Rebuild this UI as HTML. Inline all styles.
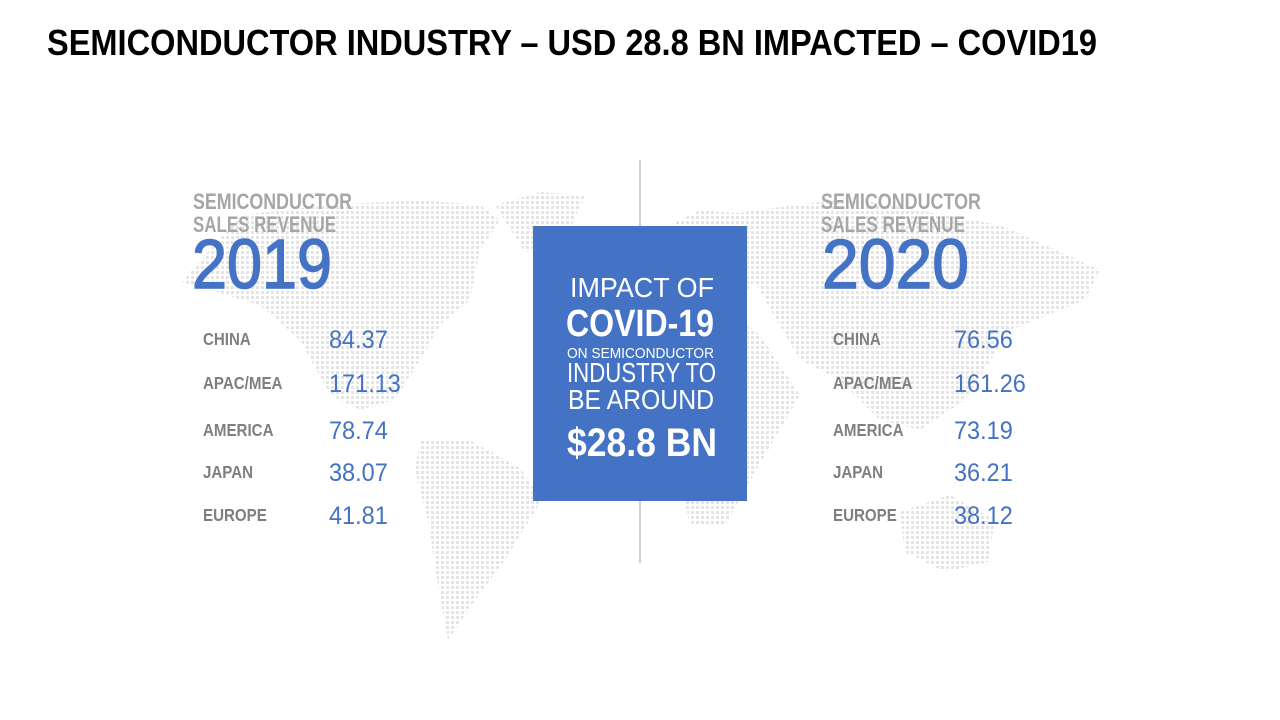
<!DOCTYPE html>
<html><head><meta charset="utf-8"><style>
html,body{margin:0;padding:0;background:#fff;width:1280px;height:720px;overflow:hidden}
svg{display:block}
text{font-family:"Liberation Sans Narrow","Liberation Sans",sans-serif}
</style></head><body>
<svg id="chart" width="1280" height="720" viewBox="0 0 1280 720">
<defs>
<pattern id="dots" width="5" height="5" patternUnits="userSpaceOnUse">
<rect x="1" y="1" width="3" height="3" fill="#e4e4e4"/>
</pattern>
</defs>
<g fill="url(#dots)">
<polygon points="182,282 240,215 330,205 420,200 480,205 500,220 480,250 470,300 440,325 420,360 395,400 360,410 330,395 300,340 260,305"/>
<polygon points="495,205 540,192 585,195 565,240 525,252"/>
<polygon points="420,440 470,440 520,468 542,500 505,560 475,600 448,640 438,585 428,520 415,470"/>
<polygon points="650,235 700,210 760,215 770,260 740,300 690,300 655,290"/>
<polygon points="648,302 720,300 760,335 800,395 765,455 725,525 690,525 672,445 650,405 640,340"/>
<polygon points="720,215 850,198 1000,225 1100,270 1085,300 1010,330 965,400 920,430 880,420 840,380 800,360 765,300"/>
<polygon points="900,512 950,495 995,520 988,562 945,572 905,552"/>
</g>
<text x="47" y="55" font-size="36" font-weight="bold" fill="#000" textLength="1050" lengthAdjust="spacingAndGlyphs">SEMICONDUCTOR INDUSTRY – USD 28.8 BN IMPACTED – COVID19</text>
<line x1="640" y1="160" x2="640" y2="563" stroke="#a0a0a0" stroke-width="1"/>
<g id="left">
<text x="193" y="209" font-size="22" font-weight="bold" fill="#a6a6a6" textLength="159" lengthAdjust="spacingAndGlyphs">SEMICONDUCTOR</text>
<text x="193" y="232" font-size="22" font-weight="bold" fill="#a6a6a6" textLength="143" lengthAdjust="spacingAndGlyphs">SALES REVENUE</text>
<text x="192" y="288" font-size="70" fill="#4472c4" stroke="#4472c4" stroke-width="1.5" textLength="140" lengthAdjust="spacingAndGlyphs">2019</text>
</g>
<g id="right">
<text x="821" y="209" font-size="22" font-weight="bold" fill="#a6a6a6" textLength="160" lengthAdjust="spacingAndGlyphs">SEMICONDUCTOR</text>
<text x="821" y="232" font-size="22" font-weight="bold" fill="#a6a6a6" textLength="144" lengthAdjust="spacingAndGlyphs">SALES REVENUE</text>
<text x="822" y="288" font-size="70" fill="#4472c4" stroke="#4472c4" stroke-width="1.5" textLength="147" lengthAdjust="spacingAndGlyphs">2020</text>
</g>
<g>
<rect x="533" y="226" width="214" height="275" fill="#4472c4"/>
<text x="570" y="297" font-size="28" fill="#fff" textLength="144" lengthAdjust="spacingAndGlyphs">IMPACT OF</text>
<text x="566" y="336" font-size="38" font-weight="bold" fill="#fff" textLength="148" lengthAdjust="spacingAndGlyphs">COVID-19</text>
<text x="567" y="358" font-size="15" fill="#fff" textLength="147" lengthAdjust="spacingAndGlyphs">ON SEMICONDUCTOR</text>
<text x="567" y="382" font-size="28" fill="#fff" textLength="149" lengthAdjust="spacingAndGlyphs">INDUSTRY TO</text>
<text x="568" y="409" font-size="28" fill="#fff" textLength="146" lengthAdjust="spacingAndGlyphs">BE AROUND</text>
<text x="567" y="456" font-size="40" font-weight="bold" fill="#fff" textLength="150" lengthAdjust="spacingAndGlyphs">$28.8 BN</text>
</g>
</svg>
<script>
const regions = ["CHINA","APAC/MEA","AMERICA","JAPAN","EUROPE"];
const values2019 = [84.37,171.13,78.74,38.07,41.81];
const values2020 = [76.56,161.26,73.19,36.21,38.12];
const rowY = [345,389,436,478,521];
const NS="http://www.w3.org/2000/svg";
function addRows(gid, labelX, valueX, vals){
  const g=document.getElementById(gid);
  regions.forEach((r,i)=>{
    const t=document.createElementNS(NS,"text");
    
    
    t.setAttribute("x",labelX);t.setAttribute("y",rowY[i]);
    t.setAttribute("font-size","18");t.setAttribute("font-weight","bold");t.setAttribute("fill","#7f7f7f");
    t.setAttribute("transform","translate("+labelX+",0) scale(0.84,1) translate("+(-labelX)+",0)");
    t.textContent=r;g.appendChild(t);
    const v=document.createElementNS(NS,"text");
    
    
    v.setAttribute("x",valueX);v.setAttribute("y",rowY[i]+3);
    v.setAttribute("font-size","25");v.setAttribute("fill","#4472c4");
    v.setAttribute("transform","translate("+valueX+",0) scale(0.94,1) translate("+(-valueX)+",0)");
    v.textContent=vals[i].toFixed(2);g.appendChild(v);
  });
}
addRows("left",203,329,values2019);
addRows("right",833,954,values2020);
</script>
</body></html>
